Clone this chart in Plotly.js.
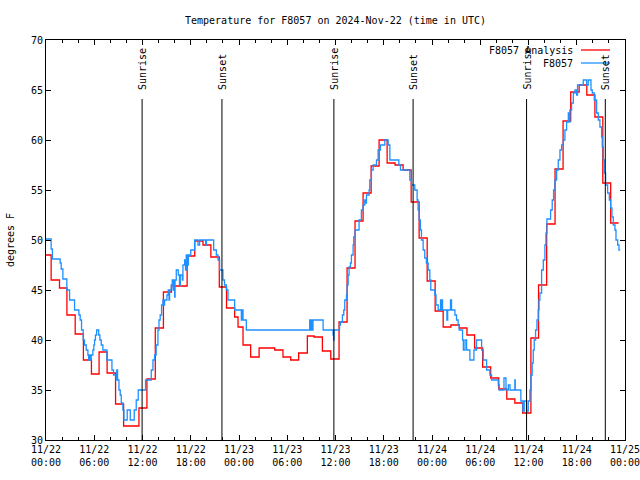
<!DOCTYPE html>
<html><head><meta charset="utf-8">
<script src="https://cdn.plot.ly/plotly-3.0.1.min.js"></script>
<style>html,body{margin:0;padding:0;background:#fff}#chart{width:640px;height:480px}</style>
</head><body><div id="chart"></div>
<script>
// hours since 2024-11-22 00:00 UTC
const analysisHours = [0, 0.64, 1.68, 2.6, 3.63, 4.65, 5.65, 6.6, 7.6, 8.65, 9.65, 11.56, 12.55, 13.59, 14.6, 15.6, 17.55, 18.5, 19.52, 20.5, 21.55, 22.45, 23.46, 23.88, 24.5, 25.45, 26.5, 28.44, 29.47, 30.43, 31.42, 32.5, 33.33, 34.37, 35.41, 36.44, 37.44, 38.43, 39.43, 40.43, 41.42, 42.42, 43.41, 44.41, 45.41, 46.4, 47.4, 48.39, 49.39, 50.35, 51.4, 52.35, 53.3, 54.3, 55.3, 56.3, 57.3, 58.3, 59.27, 60.3, 61.25, 62.26, 63.3, 64.3, 65.25, 66.3, 67.25, 68.26, 69.24, 70.22, 71.2];
const analysisTemp = [48.5, 46.0, 45.2, 42.5, 40.6, 38.0, 36.6, 38.8, 36.7, 33.6, 31.4, 33.2, 36.1, 41.2, 44.8, 45.4, 48.4, 49.9, 49.5, 48.3, 45.3, 43.2, 42.3, 41.3, 39.5, 38.3, 39.2, 39.0, 38.3, 38.0, 38.7, 40.4, 40.3, 38.9, 38.1, 41.8, 47.2, 51.9, 54.7, 57.4, 60.0, 57.7, 57.5, 57.0, 53.8, 50.2, 45.9, 42.9, 41.3, 41.5, 41.2, 40.5, 39.2, 37.3, 36.2, 35.1, 34.1, 33.7, 32.7, 40.2, 45.5, 51.6, 57.1, 61.9, 64.8, 65.5, 64.5, 62.3, 55.7, 51.7, 51.7];

const stationHours = [0, 0.64, 0.8, 1.76, 1.89, 2.1, 2.59, 2.93, 3.55, 4.09, 4.25, 4.42, 4.63, 4.79, 5.0, 5.21, 5.3, 5.4, 5.5, 5.62, 5.83, 5.95, 6.04, 6.15, 6.3, 6.55, 6.7, 6.87, 7.07, 7.57, 8.2, 8.4, 8.73, 8.8, 8.9, 9.07, 9.23, 9.36, 9.56, 9.69, 10.1, 10.48, 10.97, 11.22, 11.47, 12.38, 13.09, 13.3, 13.5, 13.7, 13.92, 14.05, 14.2, 14.37, 14.54, 14.65, 14.75, 15.04, 15.2, 15.3, 15.37, 15.58, 15.7, 15.8, 15.9, 16.0, 16.05, 16.2, 16.45, 16.6, 16.7, 16.95, 17.03, 17.24, 17.35, 17.44, 17.6, 17.7, 18.0, 18.48, 18.9, 19.1, 19.85, 19.95, 20.85, 21.18, 21.39, 21.59, 22.0, 22.2, 22.43, 22.63, 23.46, 24.29, 24.38, 24.5, 24.91, 32.79, 32.88, 32.95, 33.05, 33.2, 34.46, 35.7, 35.77, 35.82, 36.5, 36.61, 36.86, 37.03, 37.15, 37.36, 37.44, 37.57, 37.69, 37.86, 37.98, 38.19, 38.27, 38.44, 38.93, 39.22, 39.43, 39.64, 39.76, 39.85, 40.18, 40.26, 40.47, 40.68, 41.1, 41.3, 41.59, 42.13, 42.55, 42.76, 43.88, 44.08, 45.24, 45.45, 45.86, 46.15, 46.27, 46.4, 46.56, 46.69, 46.9, 47.1, 47.3, 47.52, 47.73, 47.85, 48.35, 48.5, 48.77, 49.06, 49.18, 49.25, 49.31, 49.85, 49.95, 50.3, 50.43, 50.85, 51.05, 51.25, 51.38, 51.8, 51.9, 52.1, 52.3, 52.71, 53.21, 53.54, 54.17, 54.37, 54.79, 55.2, 55.41, 56.24, 56.36, 56.95, 57.2, 57.49, 57.7, 58.3, 58.35, 59.05, 59.3, 59.47, 59.76, 59.97, 60.18, 60.3, 60.46, 60.59, 60.71, 60.88, 61.05, 61.21, 61.3, 61.42, 61.63, 61.84, 62.04, 62.17, 62.29, 62.75, 62.95, 63.12, 63.29, 63.5, 63.7, 63.91, 64.12, 64.32, 64.53, 64.74, 64.95, 65.1, 65.15, 65.36, 65.57, 65.78, 65.98, 66.1, 66.81, 67.23, 67.43, 67.77, 67.93, 68.18, 68.47, 68.68, 68.88, 69.09, 69.17, 69.3, 69.42, 69.59, 69.84, 70.05, 70.21, 70.38, 70.54, 70.75, 70.88, 71.09, 71.25, 71.4];
const stationTemp = [50.1, 49.1, 48.1, 47.7, 47.1, 46.1, 45.0, 44.0, 43.0, 42.5, 42.0, 41.0, 40.0, 39.5, 39.0, 38.5, 38.0, 38.5, 38.0, 38.5, 39.0, 39.5, 40.0, 40.5, 41.0, 40.5, 40.0, 39.5, 39.0, 38.0, 37.0, 36.5, 36.0, 37.0, 36.0, 35.0, 34.5, 33.7, 33.0, 32.0, 33.0, 32.0, 33.0, 34.0, 35.0, 36.0, 37.0, 38.0, 38.5, 39.5, 41.0, 42.0, 42.5, 43.5, 44.0, 43.5, 44.0, 44.5, 45.0, 44.0, 45.0, 45.5, 46.0, 45.0, 46.0, 44.3, 46.0, 47.0, 46.5, 45.5, 46.5, 46.0, 47.5, 48.0, 47.0, 48.5, 47.5, 48.5, 49.0, 50.0, 49.5, 50.0, 49.5, 50.0, 49.0, 48.5, 48.0, 47.0, 46.0, 45.5, 45.0, 44.0, 43.0, 42.0, 43.0, 42.0, 41.0, 42.0, 41.0, 42.0, 41.0, 42.0, 41.0, 40.5, 40.0, 41.0, 41.5, 41.8, 42.5, 43.0, 44.0, 44.5, 45.5, 46.5, 47.3, 47.7, 48.5, 49.5, 50.3, 51.0, 52.0, 53.0, 53.5, 54.0, 53.7, 54.5, 55.0, 56.0, 57.0, 57.5, 58.0, 59.0, 59.5, 60.0, 59.5, 58.0, 57.5, 57.0, 56.0, 55.5, 55.0, 54.0, 53.0, 52.0, 51.0, 50.0, 49.0, 48.2, 47.7, 47.0, 46.0, 45.0, 44.5, 43.5, 43.0, 44.0, 43.0, 44.0, 43.0, 42.0, 43.0, 44.0, 43.0, 42.5, 42.0, 41.5, 41.0, 40.0, 39.0, 40.0, 39.0, 38.0, 39.0, 40.0, 39.0, 38.0, 37.0, 36.5, 36.0, 35.5, 35.0, 36.2, 35.0, 35.5, 35.0, 36.0, 35.0, 33.9, 32.9, 33.9, 32.9, 33.9, 35.0, 36.5, 37.7, 39.0, 40.0, 41.0, 42.0, 43.0, 44.0, 44.7, 47.0, 48.0, 49.5, 50.7, 52.1, 53.0, 54.0, 55.0, 56.0, 57.0, 58.0, 59.0, 59.5, 60.0, 61.0, 61.8, 62.7, 61.8, 63.0, 63.7, 64.7, 65.0, 64.5, 65.5, 66.0, 65.5, 66.0, 65.0, 64.7, 64.0, 62.7, 62.0, 61.3, 60.3, 59.3, 58.0, 56.7, 55.5, 54.7, 54.0, 53.2, 52.3, 51.5, 51.0, 50.0, 49.5, 49.0, 49.0];

const sunriseHours = [11.95, 35.8, 59.76];
const sunsetHours = [21.88, 45.65, 69.55];

const tickHours = [0, 6, 12, 18, 24, 30, 36, 42, 48, 54, 60, 66, 72];
const tickLabels = ['11/22<br>00:00', '11/22<br>06:00', '11/22<br>12:00', '11/22<br>18:00',
  '11/23<br>00:00', '11/23<br>06:00', '11/23<br>12:00', '11/23<br>18:00',
  '11/24<br>00:00', '11/24<br>06:00', '11/24<br>12:00', '11/24<br>18:00', '11/25<br>00:00'];
const seriesNames = ['F8057 Analysis', 'F8057'];
const seriesColors = ['#ff0000', '#1e90ff'];

const FONT = {family: 'DejaVu Sans Mono, monospace', size: 10, color: '#000'};

const traces = [
  {x: analysisHours, y: analysisTemp, type: 'scatter', mode: 'lines', name: seriesNames[0],
   line: {shape: 'hv', color: seriesColors[0], width: 1.3}, hoverinfo: 'skip'},
  {x: stationHours, y: stationTemp, type: 'scatter', mode: 'lines', name: seriesNames[1],
   line: {shape: 'hv', color: seriesColors[1], width: 1.3}, hoverinfo: 'skip'}
];

const shapes = [];
const annotations = [];
function addSun(h, label) {
  shapes.push({type: 'line', xref: 'x', yref: 'y', x0: h, x1: h, y0: 30, y1: 64.1,
    line: {color: '#000', width: 1}});
  annotations.push({xref: 'x', yref: 'y', x: h, y: 64.8, text: label, textangle: -90,
    showarrow: false, xanchor: 'center', yanchor: 'bottom', font: FONT});
}
sunriseHours.forEach(h => addSun(h, 'Sunrise'));
sunsetHours.forEach(h => addSun(h, 'Sunset'));

// gnuplot-style key: text then sample line, top right
const keyRows = [0.975, 0.9425];
seriesNames.forEach((n, i) => {
  annotations.push({xref: 'paper', yref: 'paper', x: 0.9136, y: keyRows[i], text: n,
    showarrow: false, xanchor: 'right', yanchor: 'middle', font: FONT});
  shapes.push({type: 'line', xref: 'paper', yref: 'paper', x0: 0.924, x1: 0.9741,
    y0: keyRows[i], y1: keyRows[i], line: {color: seriesColors[i], width: 1.3}});
});

const axisCommon = {
  ticks: 'inside', ticklen: 5, tickcolor: '#000', tickwidth: 1,
  showline: true, linecolor: '#000', linewidth: 1, mirror: 'allticks',
  showgrid: false, zeroline: false, tickfont: FONT, fixedrange: true,
  ticklabeloverflow: 'allow'
};

const layout = {
  width: 640, height: 480,
  margin: {l: 46, r: 15, t: 40, b: 40},
  paper_bgcolor: '#fff', plot_bgcolor: '#fff',
  font: FONT, showlegend: false,
  title: {text: 'Temperature for F8057 on 2024-Nov-22 (time in UTC)', font: FONT,
    x: 0.5, xref: 'paper', xanchor: 'center', y: 1 - 20 / 480, yref: 'container', yanchor: 'middle'},
  xaxis: Object.assign({}, axisCommon, {
    range: [0, 72], tickmode: 'array', tickvals: tickHours, ticktext: tickLabels,
    minor: {tickmode: 'linear', tick0: 0, dtick: 2, ticks: 'inside', ticklen: 3, tickcolor: '#000', showgrid: false}
  }),
  yaxis: Object.assign({}, axisCommon, {
    range: [30, 70], tickmode: 'linear', tick0: 30, dtick: 5,
    title: {text: 'degrees F', font: FONT, standoff: 14}
  }),
  shapes: shapes, annotations: annotations
};

Plotly.newPlot('chart', traces, layout, {staticPlot: true, displayModeBar: false});
</script></body></html>
